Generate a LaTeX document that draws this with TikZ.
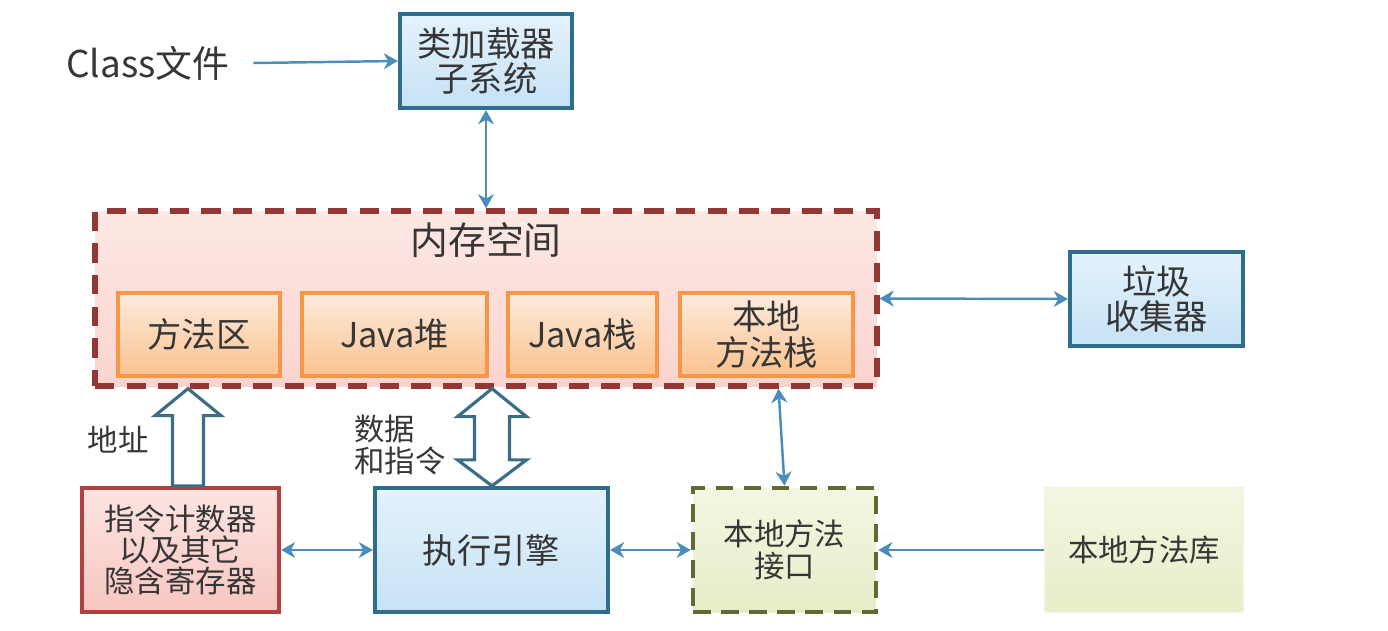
\documentclass[tikz,border=0pt]{standalone}
\usepackage{fontspec}
\setmainfont{Noto Sans CJK SC}
\usetikzlibrary{arrows.meta,calc}
\definecolor{txtgray}{HTML}{363636}
\definecolor{linkblue}{HTML}{4A8DBB}
\definecolor{tealedge}{HTML}{2E6E8C}
\definecolor{memedge}{HTML}{943634}
\definecolor{orangeedge}{HTML}{F79646}
\definecolor{pcedge}{HTML}{B0413E}
\definecolor{oliveedge}{HTML}{5F6A35}
\definecolor{hollowedge}{HTML}{3B6E84}
\definecolor{bluetop}{HTML}{E4F2FC}
\definecolor{bluebot}{HTML}{C6E2F5}
\definecolor{memtop}{HTML}{FDE8E4}
\definecolor{membot}{HTML}{FAD4CF}
\definecolor{orangetop}{HTML}{FDEBDD}
\definecolor{orangebot}{HTML}{FBC28F}
\definecolor{pctop}{HTML}{FCE5E2}
\definecolor{pcbot}{HTML}{F7C6C1}
\definecolor{oltop}{HTML}{F3F7E2}
\definecolor{olbot}{HTML}{E6EDC8}
\tikzset{
  lbl/.style={text=txtgray,align=center,font=\fontsize{19.5}{20}\selectfont},
  small/.style={text=txtgray,align=center,font=\fontsize{17.3}{17.8}\selectfont},
  bluebox/.style={draw=tealedge,line width=2.4pt,top color=bluetop,bottom color=bluebot},
  membox/.style={draw=memedge,line width=3pt,dash pattern=on 11pt off 7pt,top color=memtop,bottom color=membot},
  orangebox/.style={draw=orangeedge,line width=2pt,top color=orangetop,bottom color=orangebot},
  pcbox/.style={draw=pcedge,line width=2.4pt,top color=pctop,bottom color=pcbot},
  nifbox/.style={draw=oliveedge,line width=2.6pt,dash pattern=on 10pt off 6pt,top color=oltop,bottom color=olbot},
  libbox/.style={draw=olbot!60!white,line width=1pt,top color=oltop,bottom color=olbot},
  link/.style={draw=linkblue,line width=1.4pt},
  hollow/.style={draw=hollowedge,line width=1.8pt,fill=white,line join=miter}
}
\begin{document}
\begin{tikzpicture}[>={Stealth[length=8pt,width=9pt,inset=2.5pt]}]
\useasboundingbox (0,0) rectangle (27.76,12.6);
% top row
\node [lbl,font=\fontsize{21}{22}\selectfont] (cls) at (2.96,11.34) {Class文件};
\node [lbl,bluebox,minimum width=3.44cm,minimum height=1.88cm] (loader) at (9.72,11.38) {类加载器\\子系统};
% memory area
\node [membox,minimum width=15.64cm,minimum height=3.5cm] (mem) at (9.72,6.63) {};
\node [lbl,font=\fontsize{21.5}{22}\selectfont] (memlbl) at (9.72,7.8) {内存空间};
\node [lbl,orangebox,minimum width=3.24cm,minimum height=1.66cm] (meth) at (3.98,5.91) {方法区};
\node [lbl,orangebox,minimum width=3.7cm,minimum height=1.66cm] (heap) at (7.89,5.91) {Java堆};
\node [lbl,orangebox,minimum width=2.98cm,minimum height=1.66cm] (jstk) at (11.65,5.91) {Java栈};
\node [lbl,orangebox,minimum width=3.46cm,minimum height=1.66cm] (nstk) at (15.33,5.91) {本地\\方法栈};
\node [lbl,bluebox,minimum width=3.46cm,minimum height=1.88cm] (gc) at (23.13,6.62) {垃圾\\收集器};
% bottom row
\node [small,pcbox,minimum width=3.94cm,minimum height=2.48cm] (pc) at (3.61,1.6) {指令计数器\\以及其它\\隐含寄存器};
\node [lbl,bluebox,minimum width=4.66cm,minimum height=2.48cm] (exec) at (9.83,1.6) {执行引擎};
\node [small,nifbox,minimum width=3.66cm,minimum height=2.48cm] (nif) at (15.69,1.6) {本地方法\\接口};
\node [small,libbox,minimum width=3.96cm,minimum height=2.48cm] (lib) at (22.88,1.6) {本地方法库};
\node [small] (addr) at (2.36,3.8) {地址};
\node [small,align=left] (data) at (8.0,3.7) {数据\\和指令};
% thin connectors
\draw [link,->] (cls.east)++(0.35,0) coordinate (clsout) (clsout) -- (loader.west);
\draw [link,<->] (loader.south) -- (mem.north);
\draw [link,<->] (mem.east) -- (gc.west);
\coordinate (nstop) at ($(mem.south -| nstk.south)+(0.24,0)$);
\draw [link,<->] (nstop) -- (nif.north);
\draw [link,<->] (pc.east) -- (exec.west);
\draw [link,<->] (exec.east) -- (nif.west);
\draw [link,->] (lib.west) -- (nif.east);
% hollow arrows
\coordinate (addrlo) at ($(pc.north)+(0.15,0)$);
\coordinate (addrhi) at (addrlo |- mem.south);
\draw [hollow] ($(addrlo)+(-0.31,0)$) -- ($(addrhi)+(-0.31,-0.54)$) -- ($(addrhi)+(-0.66,-0.54)$)
  -- (addrhi) -- ($(addrhi)+(0.66,-0.54)$) -- ($(addrhi)+(0.31,-0.54)$) -- ($(addrlo)+(0.31,0)$) -- cycle;
\coordinate (datalo) at ($(exec.north)+(0.01,0)$);
\coordinate (datahi) at (datalo |- mem.south);
\draw [hollow] (datahi) -- ($(datahi)+(0.69,-0.56)$) -- ($(datahi)+(0.35,-0.56)$) -- ($(datalo)+(0.35,0.52)$)
  -- ($(datalo)+(0.69,0.52)$) -- (datalo) -- ($(datalo)+(-0.69,0.52)$) -- ($(datalo)+(-0.35,0.52)$)
  -- ($(datahi)+(-0.35,-0.56)$) -- ($(datahi)+(-0.69,-0.56)$) -- cycle;
\end{tikzpicture}
\end{document}
